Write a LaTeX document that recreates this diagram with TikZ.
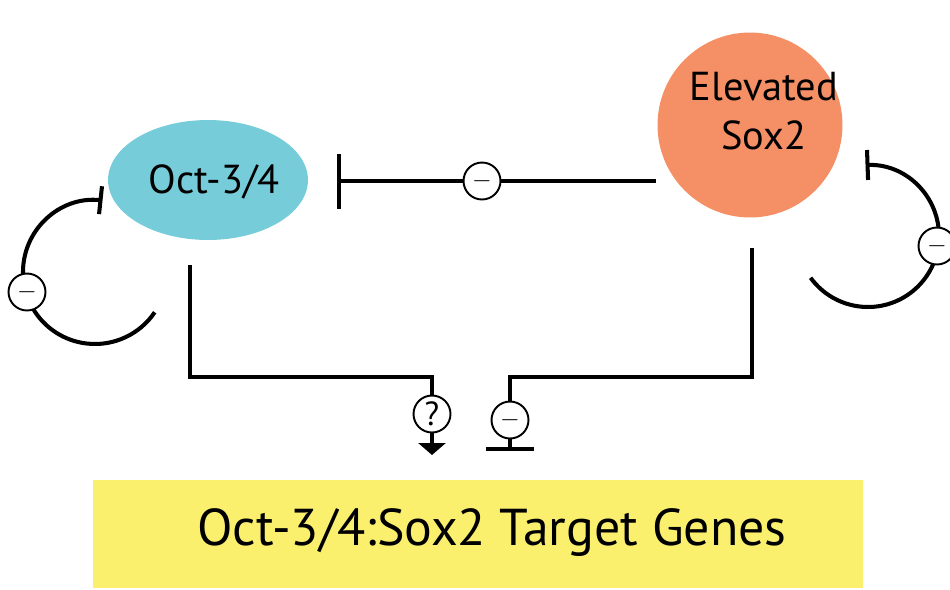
\documentclass[tikz,border=0pt]{standalone}
\usepackage{fontspec}
\setmainfont{PT Sans}
\usetikzlibrary{arrows.meta,shapes.geometric,backgrounds}
\definecolor{octcol}{RGB}{118,205,217}
\definecolor{soxcol}{RGB}{245,143,102}
\definecolor{genecol}{RGB}{250,240,110}
\tikzset{
  wire/.style={line width=2.3pt, line cap=butt},
  signcirc/.style={circle, draw, line width=1.1pt, fill=white, minimum size=0.74cm, inner sep=0pt, font=\fontsize{15}{15}\selectfont},
  lbl/.style={font=\fontsize{23}{28}\selectfont, align=center, inner sep=0pt}
}
\begin{document}
\begin{tikzpicture}[x=0.02cm,y=-0.02cm]
\useasboundingbox (0,0) rectangle (950,589);
% main nodes
\node[ellipse, fill=octcol, minimum width=4cm, minimum height=2.4cm, inner sep=0pt] (oct) at (208,180) {};
\node[lbl] (octtxt) at (214,182) {Oct-3/4};
\node[circle, fill=soxcol, minimum size=3.7cm, inner sep=0pt] (sox) at (750,125) {};
\node[lbl] (soxtxt) at (764,111) {Elevated\\Sox2};
\node[rectangle, fill=genecol, minimum width=15.4cm, minimum height=2.16cm, inner sep=0pt] (genes) at (478,534) {};
\node[font=\fontsize{29.5}{36}\selectfont, inner sep=0pt] (genetxt) at (492,533) {Oct-3/4:Sox2 Target Genes};
% sign circles
\node[signcirc] (m1) at (482,181) {$-$};
\node[signcirc] (mL) at (27,292) {$-$};
\node[signcirc] (mR) at (937,246) {$-$};
\node[signcirc, font=\fontsize{19}{19}\selectfont] (q) at (432,414) {?};
\node[signcirc] (m2) at (510,420) {$-$};
% free ends
\coordinate (sxL) at (656,181);
\coordinate (barH) at (337,181);
\coordinate (o1) at (190,265);
\coordinate (o2) at (432,377);
\coordinate (aT) at (432,455);
\coordinate (s1) at (752,248);
\coordinate (s2) at (510,377);
\coordinate (bB) at (510,451);
\coordinate (cL) at (95,272);
\coordinate (cR) at (868,236);
\begin{scope}[on background layer]
\draw[wire] (sxL) -- (m1.east);
\draw[wire, -{Bar[width=1.1cm]}] (m1.west) -- (barH);
\draw[wire] (o1) |- (o2) -- (q.north);
\draw[wire, -{Triangle[width=0.54cm,length=0.24cm]}] (q.south) -- (aT);
\draw[wire] (s1) |- (s2) -- (m2.north);
\draw[wire, -{Bar[width=0.96cm]}] (m2.south) -- (bB);
\draw[wire, {Bar[width=0.56cm]}-] (cL) ++(-84:72) arc[start angle=-84, end angle=-326, radius=72];
\draw[wire, {Bar[width=0.6cm]}-] (cR) ++(-92:71) arc[start angle=-92, end angle=144, radius=71];
\end{scope}
\end{tikzpicture}
\end{document}
